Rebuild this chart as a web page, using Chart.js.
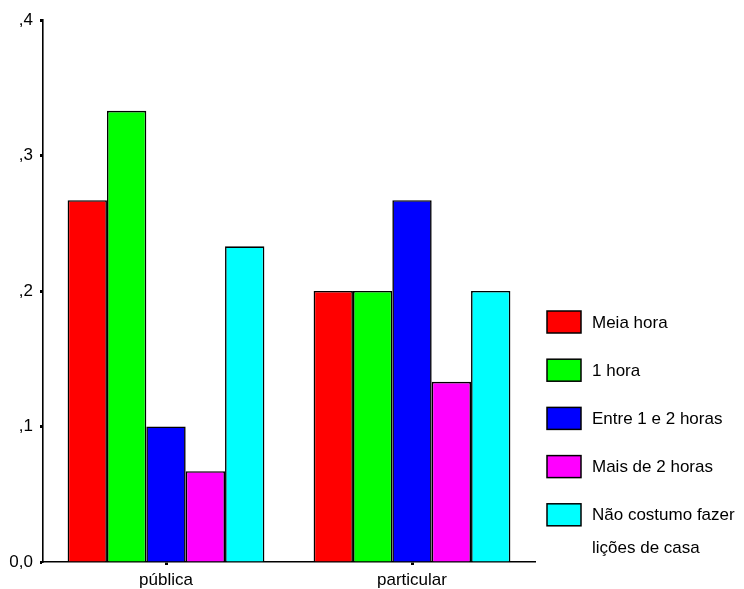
<!DOCTYPE html>
<html>
<head>
<meta charset="utf-8">
<script src="https://cdn.jsdelivr.net/npm/chart.js@4/dist/chart.umd.min.js"></script>
<style>
  html, body { margin: 0; padding: 0; background: #fff; }
  #wrap { width: 744px; height: 589px; }
</style>
</head>
<body>
<div id="wrap"><canvas id="chart" width="744" height="589"></canvas></div>
<script>
// Data
const categories  = ['pública', 'particular'];
const seriesNames = ['Meia hora', '1 hora', 'Entre 1 e 2 horas', 'Mais de 2 horas', 'Não costumo fazer lições de casa'];
const meiaHora    = [0.267, 0.200];
const umaHora     = [0.333, 0.200];
const entre1e2    = [0.100, 0.267];
const maisDe2     = [0.067, 0.133];
const naoCostumo  = [0.233, 0.200];
const yTickLabels = ['0,0', ',1', ',2', ',3', ',4'];

const seriesValues = [meiaHora, umaHora, entre1e2, maisDe2, naoCostumo];
const colors       = ['#ff0000', '#00ff00', '#0000ff', '#ff00ff', '#00ffff'];
const FONT = "'Liberation Sans', Arial, sans-serif";

// Legend drawn on the canvas, to the right of the plot
const sideLegend = {
  id: 'sideLegend',
  afterDraw(chart) {
    const ctx = chart.ctx;
    const boxX = 547, boxW = 34, boxH = 22, textX = 592;
    const firstTop = 311, rowGap = 48.2, lineGap = 33, maxW = 155;
    ctx.save();
    ctx.font = '17px ' + FONT;
    ctx.textBaseline = 'middle';
    ctx.textAlign = 'left';
    chart.data.datasets.forEach((ds, i) => {
      const top = firstTop + i * rowGap;
      ctx.fillStyle = ds.backgroundColor;
      ctx.fillRect(boxX, top, boxW, boxH);
      ctx.strokeStyle = '#000';
      ctx.lineWidth = 1.5;
      ctx.strokeRect(boxX, top, boxW, boxH);

      // wrap long labels
      const words = ds.label.split(' ');
      const lines = [];
      let cur = '';
      words.forEach(w => {
        const test = cur ? cur + ' ' + w : w;
        if (ctx.measureText(test).width > maxW && cur) { lines.push(cur); cur = w; }
        else cur = test;
      });
      if (cur) lines.push(cur);

      ctx.fillStyle = '#000';
      lines.forEach((ln, j) => ctx.fillText(ln, textX, top + boxH / 2 + 1 + j * lineGap));
    });
    ctx.restore();
  }
};

new Chart(document.getElementById('chart'), {
  type: 'bar',
  data: {
    labels: categories,
    datasets: seriesNames.map((name, i) => ({
      label: name,
      data: seriesValues[i],
      backgroundColor: colors[i],
      borderColor: '#000',
      borderWidth: 1.6,
      barPercentage: 1,
      categoryPercentage: 0.8
    }))
  },
  options: {
    responsive: false,
    animation: false,
    layout: { padding: { top: 20, right: 209, left: 0, bottom: 0 } },
    plugins: {
      legend:  { display: false },
      tooltip: { enabled: false }
    },
    scales: {
      x: {
        grid: {
          offset: false,
          drawOnChartArea: false,
          drawTicks: true,
          tickLength: 3,
          tickWidth: 3,
          tickColor: '#000'
        },
        border: { color: '#000', width: 1.6 },
        ticks: { color: '#000', font: { family: FONT, size: 17 }, padding: 5 },
        afterFit: s => { s.height = 27; }
      },
      y: {
        min: 0,
        max: 0.4,
        grid: {
          drawOnChartArea: false,
          drawTicks: true,
          tickLength: 3,
          tickWidth: 3,
          tickColor: '#000'
        },
        border: { color: '#000', width: 1.6 },
        ticks: {
          stepSize: 0.1,
          color: '#000',
          font: { family: FONT, size: 17 },
          padding: 7,
          callback: (v, i) => yTickLabels[i]
        },
        afterFit: s => { s.width = 43; }
      }
    }
  },
  plugins: [sideLegend]
});
</script>
</body>
</html>
